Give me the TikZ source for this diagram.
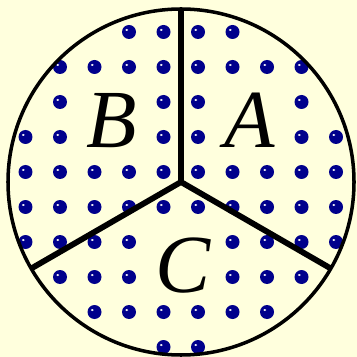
\documentclass[tikz,border=0pt]{standalone}
\usepackage{fontspec}
\newfontfamily\letterfont{Liberation Serif}
\usepackage{tikz}
\usetikzlibrary{calc}
\definecolor{paper}{RGB}{255,255,221}
\definecolor{dotblue}{RGB}{0,0,140}
\tikzset{
  dot/.style={circle, inner sep=0pt, minimum size=0.28cm, fill=dotblue, draw=none,
    path picture={\fill[white] ($(path picture bounding box.center)+(-0.045cm,0.04cm)$)
      ellipse (0.03cm and 0.02cm);}},
  sector/.style={font=\letterfont\itshape\fontsize{47}{47}\selectfont, anchor=base, inner sep=0pt},
}

\begin{document}
\begin{tikzpicture}[x=0.02cm, y=-0.02cm]
    % Background
    \fill[paper] (0,0) rectangle (357,357);
    \useasboundingbox (0,0) rectangle (357,357);

    % Dots
    \foreach \y/\cols in {32/{3,4,5,6}, 67/{1,2,3,4,5,6,7,8}, 102/{1,4,5,8},
        137/{0,1,4,5,8,9}, 172/{0,1,2,3,4,5,6,7,8,9}, 207/{0,1,2,3,4,5,6,7,8,9},
        242/{0,1,2,3,6,7,8,9}, 277/{1,2,3,6,7,8}, 312/{2,3,4,5,6,7}, 347/{4,5}} {
        \foreach \c in \cols {
            \node[dot] (d-\c-\y) at (25.5+34.5*\c, \y) {};
        }
    }

    % Circle
    \coordinate (o) at (181,182);
    \draw[line width=2pt] (o) circle (173);

    % Dividing lines
    \coordinate (top) at ($(o)+(0,-173)$);
    \coordinate (left) at ($(o)+(-149.8,86.5)$);
    \coordinate (right) at ($(o)+(149.8,86.5)$);
    \foreach \p in {top, left, right} {
        \draw[line width=3.3pt] (o) -- (\p);
    }

    % Labels
    \node[sector] (labA) at (250,148) {A};
    \node[sector] (labB) at (112,148) {B};
    \node[sector] (labC) at (183,292) {C};
\end{tikzpicture}
\end{document}
